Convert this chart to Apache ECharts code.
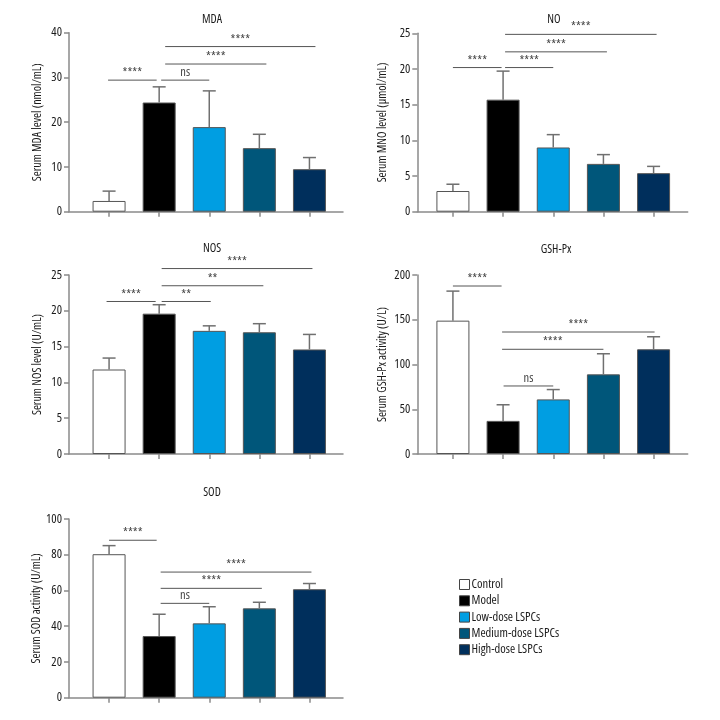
<!DOCTYPE html>
<html><head><meta charset="utf-8">
<script src="https://cdn.jsdelivr.net/npm/echarts@6/dist/echarts.min.js"></script>
<style>html,body{margin:0;padding:0;background:#fff}#c{width:720px;height:720px}</style>
</head><body><div id="c"></div>
<script>
const categories = ['Control','Model','Low-dose LSPCs','Medium-dose LSPCs','High-dose LSPCs'];
const colors = ['#ffffff','#000000','#009ee2','#00567a','#002f5c'];

const mdaMean = [2.4, 24.4, 18.9, 14.2, 9.5];
const mdaSD   = [2.2, 3.5, 8.1, 3.1, 2.6];
const noMean  = [2.9, 15.7, 9.0, 6.7, 5.4];
const noSD    = [0.95, 4.0, 1.8, 1.3, 0.95];
const nosMean = [11.8, 19.6, 17.2, 17.0, 14.6];
const nosSD   = [1.6, 1.25, 0.7, 1.2, 2.1];
const gshMean = [149, 37, 61, 89, 117];
const gshSD   = [33, 18, 11, 23, 14];
const sodMean = [80.3, 34.5, 41.6, 50.0, 60.7];
const sodSD   = [4.8, 12.2, 9.3, 3.4, 3.2];

// significance brackets: [fromCategory, toCategory, y, label]
const mdaSig = [[-0.02,0.95,29.4,'****'],[1.04,2.0,29.4,'ns'],[1.12,3.14,33.0,'****'],[1.12,4.12,36.9,'****']];
const noSig  = [[0,0.97,20.2,'****'],[1.04,2.0,20.2,'****'],[1.04,3.07,22.4,'****'],[1.04,4.06,24.85,'****']];
const nosSig = [[-0.05,0.93,21.3,'****'],[1.05,2.03,21.3,'**'],[1.05,3.08,23.5,'**'],[1.05,4.06,25.9,'****']];
const gshSig = [[0,0.97,187.7,'****'],[1.01,2.0,76,'ns'],[0.98,3.0,117,'****'],[0.98,4.02,136.3,'****']];
const sodSig = [[0,0.95,88.1,'****'],[1.03,2.0,52.8,'ns'],[1.03,3.05,61.2,'****'],[1.03,4.04,70.3,'****']];

const panels = [
  {title:'MDA', yName:'Serum MDA level (nmol/mL)', max:40, interval:10, mean:mdaMean, sd:mdaSD, sig:mdaSig,
   grid:{left:69, top:32.7, width:274, height:179}, xmin:-0.8, xmax:4.67, gap:25, tx:212, ty:14},
  {title:'NO', yName:'Serum MNO level (μmol/mL)', max:25, interval:5, mean:noMean, sd:noSD, sig:noSig,
   grid:{left:417.3, top:33.3, width:270.4, height:178.4}, xmin:-0.71, xmax:4.68, gap:29, tx:554, ty:14},
  {title:'NOS', yName:'Serum NOS level (U/mL)', max:25, interval:5, mean:nosMean, sd:nosSD, sig:nosSig,
   grid:{left:69, top:275, width:274, height:179}, xmin:-0.8, xmax:4.67, gap:25, tx:212, ty:243},
  {title:'GSH-Px', yName:'Serum GSH-Px activity (U/L)', max:200, interval:50, mean:gshMean, sd:gshSD, sig:gshSig,
   grid:{left:417.3, top:275, width:270.4, height:179}, xmin:-0.71, xmax:4.68, gap:29, tx:556, ty:244},
  {title:'SOD', yName:'Serum SOD activity (U/mL)', max:100, interval:20, mean:sodMean, sd:sodSD, sig:sodSig,
   grid:{left:69, top:519, width:274, height:178.7}, xmin:-0.8, xmax:4.67, gap:25, tx:212, ty:487}
];

const FAM = '"Open Sans"';
const TS = {fontFamily:FAM, fontStyle:'normal', fontWeight:'condensed', color:'#1a1a1a'};
const axisColor = '#8a8a8a';
const grids = [], xAxes = [], yAxes = [], series = [], titles = [];

panels.forEach((p, k) => {
  grids.push(Object.assign({containLabel:false}, p.grid));
  titles.push({text:p.title, left:p.tx, top:p.ty, textAlign:'center', padding:0,
    textStyle:Object.assign({fontSize:12}, TS)});
  xAxes.push({type:'value', gridIndex:k, min:p.xmin, max:p.xmax,
    axisLine:{show:true, onZero:false, lineStyle:{color:axisColor, width:1.5}},
    axisTick:{show:true, length:5, customValues:[0,1,2,3,4], lineStyle:{color:axisColor, width:1.5}},
    axisLabel:{show:false}, splitLine:{show:false}});
  yAxes.push({type:'value', gridIndex:k, min:0, max:p.max, interval:p.interval,
    name:p.yName, nameLocation:'middle', nameGap:p.gap,
    nameTextStyle:Object.assign({fontSize:12}, TS),
    axisLine:{show:true, onZero:false, lineStyle:{color:axisColor, width:1.5}},
    axisTick:{show:true, length:5, lineStyle:{color:axisColor, width:1.5}},
    axisLabel:Object.assign({fontSize:12.5, margin:7}, TS),
    splitLine:{show:false}});
  categories.forEach((c, i) => {
    series.push({type:'bar', name:c, xAxisIndex:k, yAxisIndex:k, barWidth:33, barGap:'-100%',
      data:[[i, p.mean[i]]],
      itemStyle:{color:colors[i], borderColor:'#555', borderWidth:1}});
  });
  series.push({type:'custom', xAxisIndex:k, yAxisIndex:k, z:5, silent:true,
    data:p.mean.map((m,i)=>[i, m, m + p.sd[i]]),
    renderItem:function(params, api){
      const b = api.coord([api.value(0), api.value(1)]);
      const t = api.coord([api.value(0), api.value(2)]);
      const st = {stroke:'#707070', lineWidth:1.5};
      return {type:'group', children:[
        {type:'line', shape:{x1:b[0], y1:b[1], x2:t[0], y2:t[1]}, style:st},
        {type:'line', shape:{x1:t[0]-6.5, y1:t[1], x2:t[0]+6.5, y2:t[1]}, style:st}
      ]};
    }});
  series.push({type:'custom', xAxisIndex:k, yAxisIndex:k, z:5, silent:true, clip:false,
    data:p.sig,
    renderItem:function(params, api){
      const a = api.coord([api.value(0), api.value(2)]);
      const b = api.coord([api.value(1), api.value(2)]);
      const lbl = p.sig[params.dataIndex][3];
      return {type:'group', children:[
        {type:'line', shape:{x1:a[0], y1:a[1], x2:b[0], y2:b[1]}, style:{stroke:'#555', lineWidth:1}},
        {type:'text', x:(a[0]+b[0])/2, y:a[1] - (lbl==='ns'?1:0),
          style:{text:lbl, fill:'#444', font:'normal condensed ' + (lbl==='ns' ? '12.5px ' : '12.5px ') + FAM,
            textAlign:'center', textVerticalAlign:'bottom'}}
      ]};
    }});
});

const chart = echarts.init(document.getElementById('c'), null, {renderer:'canvas'});
chart.setOption({
  animation:false,
  backgroundColor:'#fff',
  title:titles,
  grid:grids, xAxis:xAxes, yAxis:yAxes, series:series,
  legend:{orient:'vertical', left:454, top:573, itemWidth:10, itemHeight:10, itemGap:3.3,
    textStyle:Object.assign({fontSize:12.5, padding:[0,0,0,-3]}, TS),
    data:categories.map((c,i)=>({name:c, icon:'rect', itemStyle:{color:colors[i], borderColor:'#444', borderWidth:1}}))}
});
</script></body></html>
